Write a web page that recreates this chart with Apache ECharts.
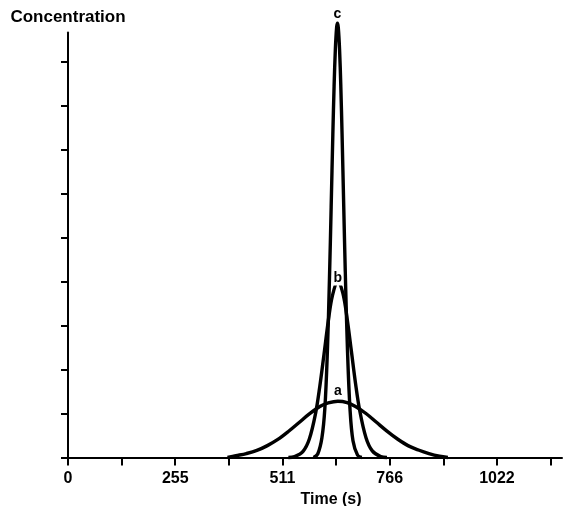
<!DOCTYPE html>
<html>
<head>
<meta charset="utf-8">
<script src="https://cdn.jsdelivr.net/npm/echarts@6/dist/echarts.min.js"></script>
<style>
  html, body { margin: 0; padding: 0; background: #fff; }
  #chart { width: 571px; height: 506px; }
</style>
</head>
<body>
<div id="chart"></div>
<script>
// Elution profiles: concentration against time (s) for runs a, b and c
const timeA = [380, 400, 425, 450, 475, 500, 525, 550, 575, 600, 620, 643, 665, 685, 710, 735, 760, 785, 810, 835, 860, 885, 905];
const concA = [0, 0.04, 0.09, 0.16, 0.27, 0.41, 0.59, 0.79, 0.99, 1.16, 1.24, 1.28, 1.25, 1.16, 1.00, 0.80, 0.60, 0.42, 0.27, 0.17, 0.09, 0.03, 0];

const timeB = [525, 540, 560, 575, 590, 600, 610, 620, 630, 643, 655, 665, 675, 685, 695, 710, 725, 745, 760];
const concB = [0, 0.02, 0.14, 0.42, 1.01, 1.62, 2.35, 3.09, 3.68, 4.00, 3.73, 3.16, 2.43, 1.69, 1.07, 0.45, 0.15, 0.02, 0];

const timeC = [585, 595, 605, 612, 618, 623, 627, 631, 634, 637, 640, 642, 644, 647, 650, 653, 657, 661, 666, 672, 679, 690, 700];
const concC = [0, 0.08, 0.45, 1.12, 2.41, 4.08, 5.69, 7.34, 8.44, 9.28, 9.77, 9.87, 9.77, 9.28, 8.44, 7.34, 5.69, 4.08, 2.41, 1.09, 0.38, 0.05, 0];

const seriesNames = ['a', 'b', 'c'];

// Axis ticks and labels
const xTickValues = [0, 127.75, 255.5, 383.25, 511, 638.75, 766.5, 894.25, 1022, 1149.75];
const xLabelValues = [0, 255.5, 511, 766.5, 1022];
const xTickLabels = ['0', '255', '511', '766', '1022'];
const yTickValues = [0, 1, 2, 3, 4, 5, 6, 7, 8, 9];

const FONT = "'Liberation Sans', Arial, Helvetica, sans-serif";

function pairs(xs, ys) {
  return xs.map((x, i) => [x, ys[i]]);
}

// Apex of a profile, used to anchor its letter
function apex(xs, ys) {
  let k = 0;
  ys.forEach((y, i) => { if (y > ys[k]) k = i; });
  return [xs[k], ys[k]];
}

function curve(name, xs, ys) {
  return {
    name: name,
    type: 'line',
    data: pairs(xs, ys),
    smooth: 0.35,
    showSymbol: false,
    clip: false,
    silent: true,
    lineStyle: { color: '#000', width: 3.4 },
    itemStyle: { color: '#000' },
    z: 2
  };
}

const labelBase = {
  show: true,
  color: '#000',
  opacity: 1,
  fontFamily: FONT,
  fontWeight: 'bold',
  fontSize: 14
};

const peakLabels = {
  type: 'scatter',
  symbolSize: 0,
  clip: false,
  silent: true,
  z: 5,
  itemStyle: { color: '#000', opacity: 1 },
  data: [
    {
      value: apex(timeA, concA),
      label: Object.assign({}, labelBase, {
        formatter: seriesNames[0], position: 'top', distance: 3,
        backgroundColor: '#fff', padding: [0, 1]
      })
    },
    {
      value: apex(timeB, concB),
      label: Object.assign({}, labelBase, {
        formatter: seriesNames[1], position: 'inside', offset: [0, -3],
        backgroundColor: '#fff', padding: [0, 1]
      })
    },
    {
      value: apex(timeC, concC),
      label: Object.assign({}, labelBase, {
        formatter: seriesNames[2], position: 'top', distance: 2
      })
    }
  ]
};

const chart = echarts.init(document.getElementById('chart'), null, { renderer: 'canvas' });

chart.setOption({
  animation: false,
  backgroundColor: '#fff',
  grid: {
    left: 68,
    right: 9,
    top: 32.5,
    bottom: 48.5,
    containLabel: false,
    outerBoundsMode: 'none'
  },
  xAxis: {
    type: 'value',
    min: 0,
    max: 1177,
    name: 'Time (s)',
    nameLocation: 'middle',
    nameGap: 33,
    nameTextStyle: {
      color: '#000',
      fontFamily: FONT,
      fontWeight: 'bold',
      fontSize: 16,
      padding: [0, 0, 0, 32]
    },
    axisLine: { show: true, lineStyle: { color: '#000', width: 2 } },
    axisTick: {
      show: true,
      customValues: xTickValues,
      length: 8,
      lineStyle: { color: '#000', width: 2 }
    },
    axisLabel: {
      show: true,
      customValues: xLabelValues,
      formatter: function (v) {
        const i = xLabelValues.findIndex(t => Math.abs(t - v) < 1e-6);
        return i >= 0 ? xTickLabels[i] : '';
      },
      color: '#000',
      fontFamily: FONT,
      fontWeight: 'bold',
      fontSize: 16,
      margin: 13
    },
    splitLine: { show: false }
  },
  yAxis: {
    type: 'value',
    min: 0,
    max: 9.66,
    name: 'Concentration',
    nameLocation: 'end',
    nameGap: 7,
    nameTextStyle: {
      color: '#000',
      fontFamily: FONT,
      fontWeight: 'bold',
      fontSize: 17
    },
    axisLine: { show: true, lineStyle: { color: '#000', width: 2 } },
    axisTick: {
      show: true,
      customValues: yTickValues,
      length: 7,
      lineStyle: { color: '#000', width: 2 }
    },
    axisLabel: { show: false },
    splitLine: { show: false }
  },
  series: [
    curve(seriesNames[0], timeA, concA),
    curve(seriesNames[1], timeB, concB),
    curve(seriesNames[2], timeC, concC),
    peakLabels
  ]
});
</script>
</body>
</html>
